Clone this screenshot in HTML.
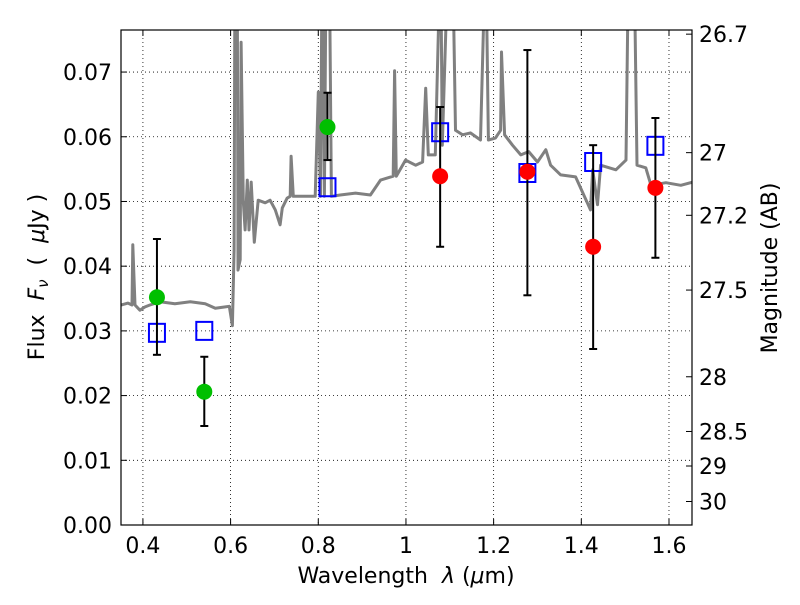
<!DOCTYPE html>
<html><head><meta charset="utf-8"><style>
body{margin:0;background:#fff}
svg text{font-family:"DejaVu Sans","Liberation Sans",sans-serif;fill:#000}
</style></head><body>
<svg id="chart" width="800" height="600" xmlns="http://www.w3.org/2000/svg">
<rect width="800" height="600" fill="#fff"/>
<g id="grid"></g>
<g id="spec"></g>
<g id="marks"></g>
<g id="axes"></g>
</svg>
<script>
const specX=[0.350,0.366,0.375,0.377,0.382,0.393,0.405,0.416,0.439,0.473,0.508,0.542,0.565,0.588,0.597,0.604,0.608,0.610,0.615,0.617,0.622,0.624,0.629,0.633,0.638,0.642,0.647,0.654,0.663,0.679,0.690,0.702,0.713,0.718,0.729,0.736,0.738,0.743,0.770,0.793,0.800,0.805,0.809,0.814,0.818,0.825,0.830,0.850,0.885,0.919,0.942,0.971,0.974,0.978,0.999,1.022,1.038,1.045,1.051,1.067,1.079,1.083,1.097,1.106,1.113,1.129,1.147,1.170,1.182,1.188,1.204,1.216,1.218,1.225,1.243,1.262,1.280,1.300,1.319,1.330,1.353,1.387,1.421,1.426,1.437,1.444,1.479,1.502,1.508,1.520,1.527,1.547,1.559,1.593,1.627,1.654];
const specY=[0.0340,0.0343,0.0340,0.0433,0.0340,0.0332,0.0337,0.0340,0.0345,0.0342,0.0345,0.0342,0.0335,0.0337,0.0338,0.0308,0.0425,0.09,0.09,0.0394,0.041,0.0746,0.050,0.0456,0.0533,0.0456,0.053,0.0437,0.0502,0.0498,0.0502,0.0487,0.0464,0.049,0.0505,0.0508,0.057,0.0508,0.0508,0.0508,0.0669,0.0508,0.09,0.0508,0.09,0.09,0.0508,0.051,0.0513,0.051,0.0533,0.0539,0.0702,0.0539,0.0564,0.0556,0.0561,0.0675,0.0572,0.0572,0.09,0.0587,0.09,0.09,0.061,0.0603,0.0606,0.0595,0.09,0.0595,0.0598,0.061,0.0731,0.0603,0.0587,0.0572,0.0577,0.0561,0.058,0.0556,0.0541,0.0538,0.0487,0.0549,0.0495,0.0556,0.0549,0.0564,0.09,0.09,0.0556,0.0552,0.0525,0.0529,0.0525,0.053];
const modelX=[0.432,0.540,0.821,1.078,1.277,1.427,1.569];
const modelY=[0.0297,0.0300,0.0522,0.0607,0.0544,0.0561,0.0586];
const greenX=[0.432,0.540,0.821];
const greenY=[0.0352,0.0206,0.0615];
const greenHi=[0.0442,0.0260,0.0668];
const greenLo=[0.0263,0.0153,0.0564];
const redX=[1.078,1.277,1.427,1.569];
const redY=[0.0539,0.0546,0.0430,0.0521];
const redHi=[0.0646,0.0734,0.0587,0.0629];
const redLo=[0.0430,0.0355,0.0272,0.0413];
const xTicks=[0.4,0.6,0.8,1.0,1.2,1.4,1.6];
const xTickLabels=["0.4","0.6","0.8","1","1.2","1.4","1.6"];
const yTicks=[0,0.01,0.02,0.03,0.04,0.05,0.06,0.07];
const yTickLabels=["0.00","0.01","0.02","0.03","0.04","0.05","0.06","0.07"];
const magTicks=[26.7,27,27.2,27.5,28,28.5,29,30];
const magLabels=["26.7","27","27.2","27.5","28","28.5","29","30"];

const L=121,R=692,T=30,B=525,X0=0.35,X1=1.6525,Y0=0,Y1=0.0765;
const sx=v=>L+(v-X0)/(X1-X0)*(R-L);
const sy=v=>B-(v-Y0)/(Y1-Y0)*(B-T);
const NS="http://www.w3.org/2000/svg";
function mk(tag,attrs,parent){const e=document.createElementNS(NS,tag);for(const k in attrs)e.setAttribute(k,attrs[k]);parent.appendChild(e);return e;}
const grid=document.getElementById('grid'),spec=document.getElementById('spec'),marks=document.getElementById('marks'),axes=document.getElementById('axes');

xTicks.forEach(v=>{const l=mk('line',{x1:sx(v),x2:sx(v),y1:T,y2:B,stroke:'#000','stroke-width':0.8,'stroke-dasharray':'1,3'},grid);

});
yTicks.forEach(v=>{const l=mk('line',{x1:L,x2:R,y1:sy(v),y2:sy(v),stroke:'#000','stroke-width':0.8,'stroke-dasharray':'1,3'},grid);

});

const cp=mk('clipPath',{id:'cp'},spec);mk('rect',{x:L,y:T,width:R-L,height:B-T},cp);
const pts=specX.map((x,i)=>sx(x).toFixed(1)+','+sy(specY[i]).toFixed(1)).join(' ');
const pl=mk('polyline',{points:pts,fill:'none',stroke:'#808080','stroke-width':3,'clip-path':'url(#cp)','stroke-linejoin':'round'},spec);



function errbar(x,lo,hi){const g=mk('g',{},marks);


const X=sx(x);mk('line',{x1:X,x2:X,y1:sy(lo),y2:sy(hi),stroke:'#000','stroke-width':2},g);
mk('line',{x1:X-4,x2:X+4,y1:sy(lo),y2:sy(lo),stroke:'#000','stroke-width':2},g);
mk('line',{x1:X-4,x2:X+4,y1:sy(hi),y2:sy(hi),stroke:'#000','stroke-width':2},g);}
modelX.forEach((x,i)=>{const r=mk('rect',{x:sx(x)-8,y:sy(modelY[i])-9,width:16,height:18,fill:'none',stroke:'#0000ff','stroke-width':2},marks);

});
greenX.forEach((x,i)=>{errbar(x,greenLo[i],greenHi[i]);const c=mk('circle',{cx:sx(x),cy:sy(greenY[i]),r:8,fill:'#00bf00'},marks);

});
redX.forEach((x,i)=>{errbar(x,redLo[i],redHi[i]);const c=mk('circle',{cx:sx(x),cy:sy(redY[i]),r:8,fill:'#ff0000'},marks);

});

const fr=mk('rect',{x:L,y:T,width:R-L,height:B-T,fill:'none',stroke:'#000','stroke-width':1.2},axes);


xTicks.forEach((v,i)=>{mk('line',{x1:sx(v),x2:sx(v),y1:B,y2:B-6,stroke:'#000'},axes);mk('line',{x1:sx(v),x2:sx(v),y1:T,y2:T+6,stroke:'#000'},axes);
const t=mk('text',{x:sx(v),y:B+28,'text-anchor':'middle','font-size':22},axes);t.textContent=xTickLabels[i];

});
yTicks.forEach((v,i)=>{mk('line',{x1:L,x2:L+6,y1:sy(v),y2:sy(v),stroke:'#000'},axes);
const t=mk('text',{x:L-9,y:sy(v)+8,'text-anchor':'end','font-size':22},axes);t.textContent=yTickLabels[i];

});
magTicks.forEach((m,i)=>{const f=Math.pow(10,(23.9-m)/2.5);const y=sy(f);mk('line',{x1:R,x2:R-6,y1:y,y2:y,stroke:'#000'},axes);
const t=mk('text',{x:R+7,y:y+8,'font-size':22},axes);t.textContent=magLabels[i];

});
</script>
<svg style="position:absolute;left:0;top:0" width="800" height="600" xmlns="http://www.w3.org/2000/svg">
<text x="406" y="583" text-anchor="middle" font-size="22" font-family="DejaVu Sans, sans-serif" xml:space="preserve">Wavelength  <tspan font-style="italic">λ</tspan> (<tspan font-style="italic">μ</tspan>m)</text>
<text transform="translate(44,277) rotate(-90)" text-anchor="middle" font-size="22" font-family="DejaVu Sans, sans-serif" xml:space="preserve">Flux  <tspan font-style="italic">F</tspan><tspan font-style="italic" font-size="15" dy="4">ν</tspan><tspan dy="-4">  (  </tspan><tspan font-style="italic">μ</tspan>Jy )</text>
<text transform="translate(777,268) rotate(-90)" text-anchor="middle" font-size="22" font-family="DejaVu Sans, sans-serif">Magnitude (AB)</text>
</svg>
</body></html>
